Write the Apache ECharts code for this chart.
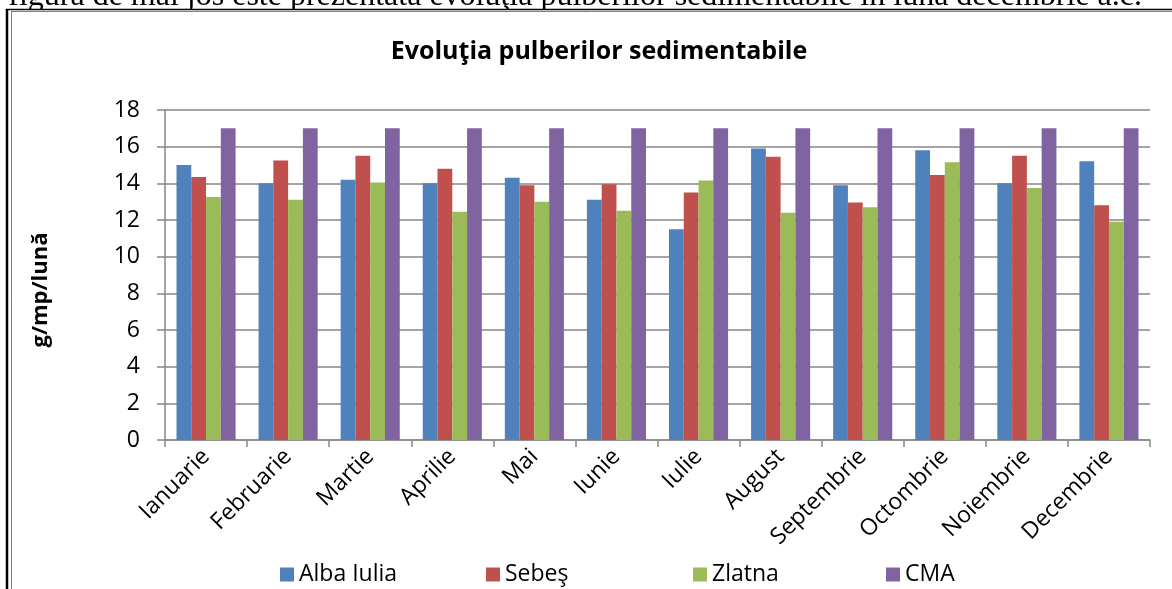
<!DOCTYPE html>
<html>
<head>
<meta charset="utf-8">
<script src="https://cdn.jsdelivr.net/npm/echarts@6/dist/echarts.min.js"></script>
<style>
html,body{margin:0;padding:0;background:#fff;}
#chart{width:1172px;height:589px;}
</style>
</head>
<body>
<div id="chart"></div>
<script>
var categories = ['Ianuarie','Februarie','Martie','Aprilie','Mai','Iunie','Iulie','August','Septembrie','Octombrie','Noiembrie','Decembrie'];
var albaIulia = [15.0, 14.0, 14.2, 14.0, 14.3, 13.1, 11.5, 15.9, 13.9, 15.8, 14.0, 15.2];
var sebes     = [14.35, 15.25, 15.5, 14.8, 13.9, 13.95, 13.5, 15.45, 12.95, 14.45, 15.5, 12.8];
var zlatna    = [13.25, 13.1, 14.05, 12.45, 13.0, 12.5, 14.15, 12.4, 12.7, 15.15, 13.75, 11.9];
var cma       = [17, 17, 17, 17, 17, 17, 17, 17, 17, 17, 17, 17];
var seriesNames = ['Alba Iulia', 'Sebeş', 'Zlatna', 'CMA'];
var colors = ['#4F81BD', '#C0504D', '#9BBB59', '#8064A2'];
var yTicks = {min: 0, max: 18, interval: 2};
var titleText = 'Evoluţia pulberilor sedimentabile';
var yAxisName = 'g/mp/lună';
var topText = 'În figura de mai jos este prezentată evoluţia pulberilor sedimentabile în luna decembrie a.c.';

var FONT = 'Open Sans';
var seriesData = [albaIulia, sebes, zlatna, cma];
var legendLefts = [275, 481, 688, 881];

var chart = echarts.init(document.getElementById('chart'), null, {renderer: 'canvas'});
var option = {
  animation: false,
  color: colors,
  title: {
    text: titleText,
    left: 594, top: 34, textAlign: 'center',
    textStyle: {fontFamily: FONT, fontSize: 25, fontWeight: 'bold', color: '#000'}
  },
  legend: seriesNames.map(function(n, i){
    return {
      data: [n], left: legendLefts[i], top: 558,
      itemWidth: 14, itemHeight: 14, itemGap: 0,
      icon: 'rect',
      textStyle: {fontFamily: FONT, fontSize: 23, color: '#000', padding: [0,0,0,0]}
    };
  }),
  grid: {left: 165, right: 22, top: 110, bottom: 149, containLabel: false},
  xAxis: {
    type: 'category', data: categories,
    axisLine: {lineStyle: {color: '#868686', width: 1.5}},
    axisTick: {show: true, alignWithLabel: false, length: 7, lineStyle: {color: '#868686', width: 1.5}},
    axisLabel: {rotate: 45, interval: 0, margin: 13, fontFamily: FONT, fontSize: 23, color: '#000'}
  },
  yAxis: {
    type: 'value', min: yTicks.min, max: yTicks.max, interval: yTicks.interval,
    name: yAxisName, nameLocation: 'middle', nameGap: 113, nameRotate: 90,
    nameTextStyle: {fontFamily: FONT, fontSize: 22, fontWeight: 'bold', color: '#000', padding: [0,30,0,0]},
    axisLine: {show: true, lineStyle: {color: '#868686', width: 1.5}},
    axisTick: {show: true, inside: false, length: 8, lineStyle: {color: '#868686', width: 1.5}},
    splitLine: {lineStyle: {color: '#868686', width: 1.5}},
    axisLabel: {margin: 25, fontFamily: FONT, fontSize: 23, color: '#000'}
  },
  series: seriesData.map(function(d, i){
    return {
      name: seriesNames[i], type: 'bar', data: d,
      barGap: '0%', barCategoryGap: '28%',
      itemStyle: {color: colors[i]}
    };
  }),
  graphic: [
    {type: 'text', right: 30, top: -19, style: {text: topText, font: '32px "Liberation Serif"', fill: '#000'}},
    {type: 'rect', shape: {x: 0, y: 9, width: 1172, height: 4}, style: {fill: '#fff'}},
    {type: 'line', shape: {x1: 7, y1: 9, x2: 7, y2: 589}, style: {stroke: '#000', lineWidth: 2.5}},
    {type: 'line', shape: {x1: 5.8, y1: 9.5, x2: 1172, y2: 9.5}, style: {stroke: '#000', lineWidth: 1.5}},
    {type: 'line', shape: {x1: 11.5, y1: 11.5, x2: 11.5, y2: 589}, style: {stroke: '#808080', lineWidth: 1}},
    {type: 'line', shape: {x1: 11, y1: 11.5, x2: 1172, y2: 11.5}, style: {stroke: '#808080', lineWidth: 1}}
  ]
};
chart.setOption(option);
</script>
</body>
</html>
